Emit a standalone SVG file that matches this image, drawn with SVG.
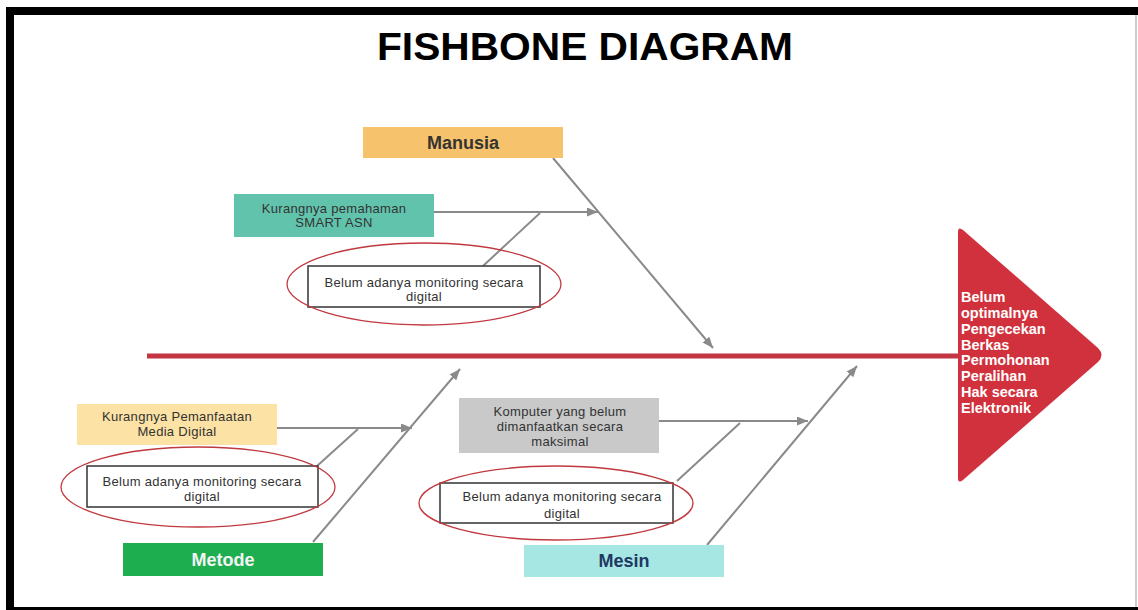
<svg xmlns="http://www.w3.org/2000/svg" width="1138" height="610" viewBox="0 0 1138 610">
  <defs>
    <marker id="ah" markerUnits="userSpaceOnUse" markerWidth="12" markerHeight="10" refX="11" refY="4.5" orient="auto">
      <path d="M0,0 L11,4.5 L0,9 z" fill="#8a8a8a"/>
    </marker>
    <style>
      .bone { stroke: #8a8a8a; stroke-width: 2; fill: none; }
      .arrow { stroke: #8a8a8a; stroke-width: 2; fill: none; marker-end: url(#ah); }
      .txt { font-family: "Liberation Sans", Arial, sans-serif; font-size: 13px; fill: #333; text-anchor: middle; letter-spacing: 0.3px; }
      .cat { font-family: "Liberation Sans", Arial, sans-serif; font-size: 18px; font-weight: bold; text-anchor: middle; }
      .wbox { fill: #ffffff; stroke: #333; stroke-width: 1.5; }
      .ring { fill: none; stroke: #c0393e; stroke-width: 1.3; }
      .head { font-family: "Liberation Sans", Arial, sans-serif; font-size: 14.5px; font-weight: bold; fill: #ffffff; }
    </style>
  </defs>
  <rect x="0" y="0" width="1138" height="610" fill="#ffffff"/>
  <!-- frame -->
  <rect x="6" y="7" width="1132" height="8" fill="#000"/>
  <rect x="6" y="7" width="8" height="603" fill="#000"/>
  <rect x="6" y="607" width="1132" height="3" fill="#000"/>
  <line x1="1136" y1="15" x2="1136" y2="607" stroke="#bbbbbb" stroke-width="1.5"/>

  <text id="title" x="377" y="60" font-family="Liberation Sans, Arial, sans-serif" font-size="38" font-weight="bold" fill="#000" textLength="416" lengthAdjust="spacingAndGlyphs">FISHBONE DIAGRAM</text>

  <g id="connectors">
    <line x1="147" y1="356" x2="960" y2="356" stroke="#c23541" stroke-width="5"/>
    <line class="arrow" x1="553" y1="158" x2="713" y2="348"/>
    <line class="arrow" x1="434" y1="212" x2="598" y2="212"/>
    <line class="bone" x1="540" y1="213" x2="483" y2="266"/>
    <line class="arrow" x1="313" y1="542" x2="460" y2="369"/>
    <line class="arrow" x1="277" y1="428" x2="412" y2="428"/>
    <line class="bone" x1="358" y1="429" x2="317" y2="466"/>
    <line class="arrow" x1="707" y1="545" x2="857" y2="366"/>
    <line class="arrow" x1="659" y1="421" x2="808" y2="421"/>
    <line class="bone" x1="740" y1="423" x2="677" y2="481"/>
  </g>

  <g id="manusia">
    <rect x="363" y="127" width="200" height="31" fill="#f6c26c"/>
    <text class="cat" x="463" y="149" fill="#333">Manusia</text>
  </g>

  <g id="cause-smart">
    <rect x="234" y="194" width="200" height="43" fill="#62c3ad"/>
    <text class="txt" x="334" y="213">Kurangnya pemahaman</text>
    <text class="txt" x="334" y="227">SMART ASN</text>
  </g>

  <g id="cause-monitoring-1">
    <rect class="wbox" x="308" y="266" width="232" height="41"/>
    <text class="txt" x="424" y="287">Belum adanya monitoring secara</text>
    <text class="txt" x="424" y="301">digital</text>
    <ellipse class="ring" cx="424" cy="284" rx="137" ry="41"/>
  </g>

  <g id="cause-media">
    <rect x="77" y="404" width="200" height="41" fill="#fce2a4"/>
    <text class="txt" x="177" y="421">Kurangnya Pemanfaatan</text>
    <text class="txt" x="177" y="436">Media Digital</text>
  </g>

  <g id="cause-monitoring-2">
    <rect class="wbox" x="87" y="466" width="231" height="41"/>
    <text class="txt" x="202" y="486">Belum adanya monitoring secara</text>
    <text class="txt" x="202" y="501">digital</text>
    <ellipse class="ring" cx="198" cy="487" rx="137" ry="40"/>
  </g>

  <g id="metode">
    <rect x="123" y="543" width="200" height="33" fill="#1daf4f"/>
    <text class="cat" x="223" y="566" fill="#f4f4f4">Metode</text>
  </g>

  <g id="cause-komputer">
    <rect x="459" y="398" width="200" height="55" fill="#c9c9c9"/>
    <text class="txt" x="560" y="416">Komputer yang belum</text>
    <text class="txt" x="560" y="431">dimanfaatkan secara</text>
    <text class="txt" x="560" y="446">maksimal</text>
  </g>

  <g id="cause-monitoring-3">
    <rect class="wbox" x="440" y="483" width="233" height="40"/>
    <text class="txt" x="562" y="501">Belum adanya monitoring secara</text>
    <text class="txt" x="562" y="518">digital</text>
    <ellipse class="ring" cx="556" cy="503" rx="137" ry="37"/>
  </g>

  <g id="mesin">
    <rect x="524" y="545" width="200" height="32" fill="#a6e7e3"/>
    <text class="cat" x="624" y="567" fill="#1f3864">Mesin</text>
  </g>

  <g id="effect">
    <path d="M958,232 Q958,226 963,230 L1098,348 Q1105,355 1098,362 L963,480 Q958,484 958,478 Z" fill="#d1313c"/>
    <text class="head" x="961" y="302">Belum</text>
    <text class="head" x="961" y="318">optimalnya</text>
    <text class="head" x="961" y="334">Pengecekan</text>
    <text class="head" x="961" y="350">Berkas</text>
    <text class="head" x="961" y="365">Permohonan</text>
    <text class="head" x="961" y="381">Peralihan</text>
    <text class="head" x="961" y="397">Hak secara</text>
    <text class="head" x="961" y="413">Elektronik</text>
  </g>
</svg>
